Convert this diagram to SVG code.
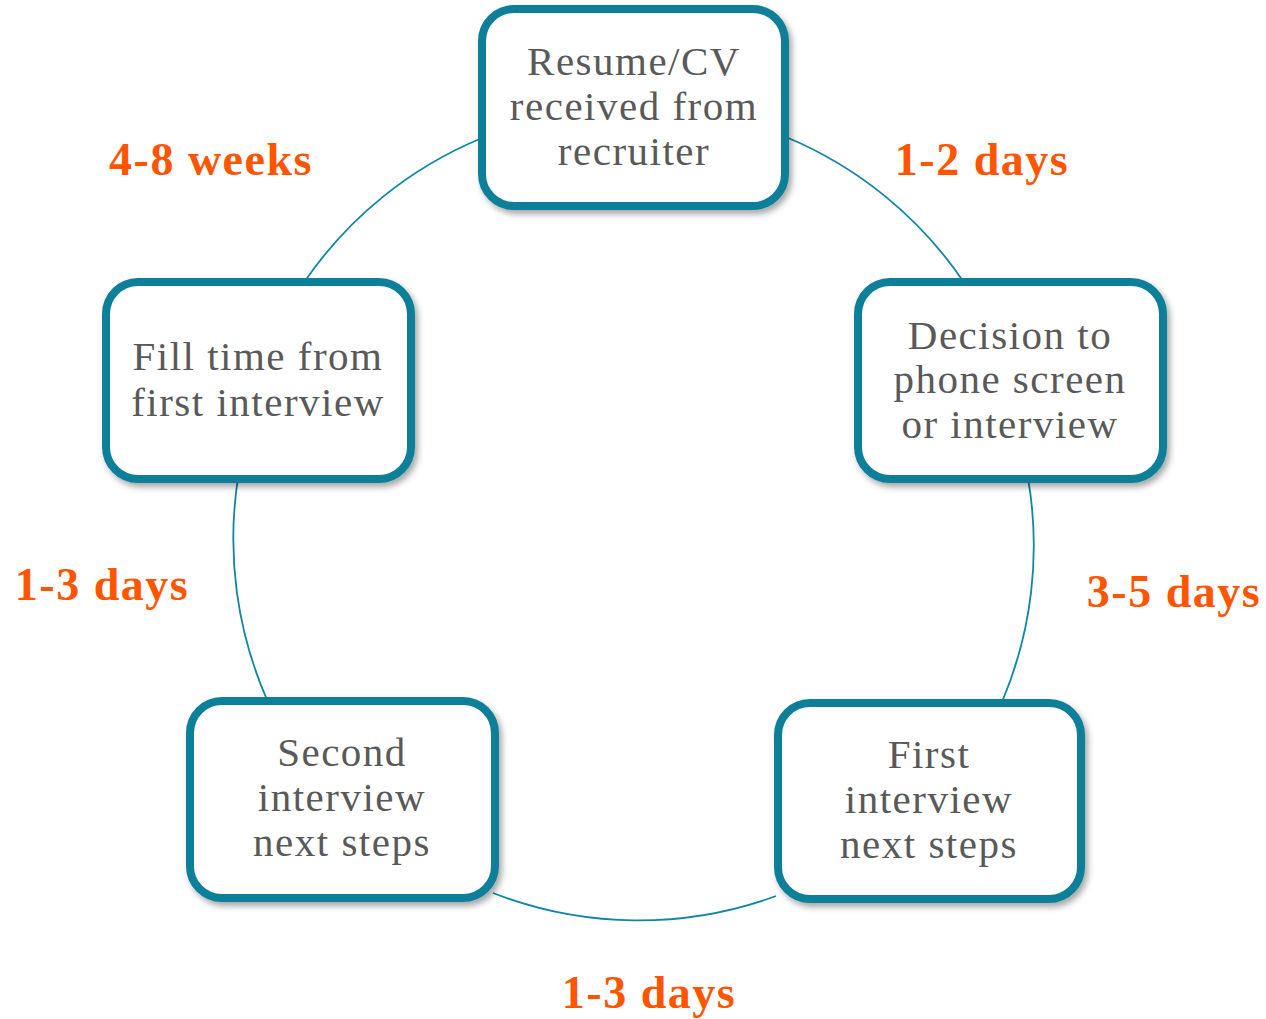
<svg xmlns="http://www.w3.org/2000/svg" width="1266" height="1019" viewBox="0 0 1266 1019">
<defs>
<filter id="sh" x="-10%" y="-10%" width="125%" height="125%">
<feDropShadow dx="3" dy="4" stdDeviation="3" flood-color="#000" flood-opacity="0.35"/>
</filter>
<style>
.box{fill:#fff;stroke:#0B7F99;stroke-width:8;filter:url(#sh)}
.lbl{font-family:"Liberation Serif",serif;font-size:41px;fill:#595959;text-anchor:middle;letter-spacing:1.5px}
.dur{font-family:"Liberation Serif",serif;font-size:46px;font-weight:bold;fill:#FF5500;text-anchor:middle;letter-spacing:1.5px}
.arc{fill:none;stroke:#0E86A6;stroke-width:1.8}
</style>
</defs>
<rect width="1266" height="1019" fill="#fff"/>
<g id="connectors">
<path class="arc" d="M786 137 A400 400 0 0 1 963 281"/>
<path class="arc" d="M1028 478 A400 400 0 0 1 1002 702"/>
<path class="arc" d="M776 896 A400 400 0 0 1 493 893"/>
<path class="arc" d="M268 702 A400 400 0 0 1 238 478"/>
<path class="arc" d="M305 281 A400 400 0 0 1 482 138"/>
</g>
<g id="node-resume">
<rect class="box" x="482" y="9" width="303" height="197" rx="32"/>
<text class="lbl" x="634" y="75">Resume/CV</text>
<text class="lbl" x="634" y="120">received from</text>
<text class="lbl" x="634" y="165">recruiter</text>
</g>
<g id="node-decision">
<rect class="box" x="858" y="282" width="305" height="197" rx="32"/>
<text class="lbl" x="1010" y="349">Decision to</text>
<text class="lbl" x="1010" y="393">phone screen</text>
<text class="lbl" x="1010" y="438">or interview</text>
</g>
<g id="node-first">
<rect class="box" x="778" y="703" width="303" height="196" rx="32"/>
<text class="lbl" x="929" y="768">First</text>
<text class="lbl" x="929" y="813">interview</text>
<text class="lbl" x="929" y="858">next steps</text>
</g>
<g id="node-second">
<rect class="box" x="190" y="701" width="305" height="197" rx="32"/>
<text class="lbl" x="342" y="766">Second</text>
<text class="lbl" x="342" y="811">interview</text>
<text class="lbl" x="342" y="856">next steps</text>
</g>
<g id="node-fill">
<rect class="box" x="106" y="282" width="305" height="197" rx="32"/>
<text class="lbl" x="258" y="370">Fill time from</text>
<text class="lbl" x="258" y="416">first interview</text>
</g>
<g id="durations">
<text class="dur" x="211" y="175">4-8 weeks</text>
<text class="dur" x="982" y="175">1-2 days</text>
<text class="dur" x="1174" y="607">3-5 days</text>
<text class="dur" x="102" y="600">1-3 days</text>
<text class="dur" x="649" y="1008">1-3 days</text>
</g>
</svg>
